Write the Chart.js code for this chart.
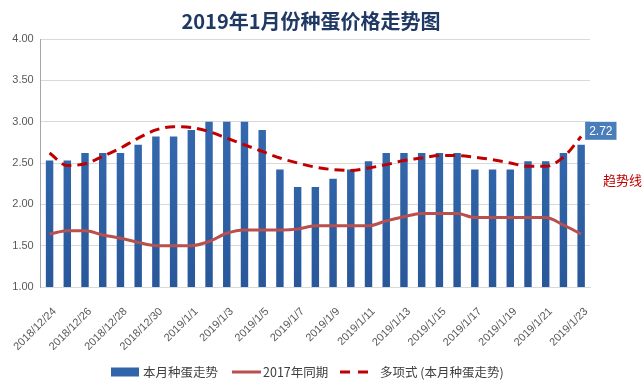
<!DOCTYPE html>
<html>
<head>
<meta charset="utf-8">
<script src="https://cdn.jsdelivr.net/npm/chart.js@4.4.1/dist/chart.umd.min.js"></script>
<style>
  html, body { margin: 0; padding: 0; background: #ffffff; }
  #wrap { width: 644px; height: 387px; position: relative; }
</style>
</head>
<body>
<div id="wrap"><canvas id="c" width="644" height="387"></canvas></div>
<script>
const titleText = '2019年1月份种蛋价格走势图';
const categories = [
  '2018/12/24','2018/12/25','2018/12/26','2018/12/27','2018/12/28','2018/12/29','2018/12/30','2018/12/31',
  '2019/1/1','2019/1/2','2019/1/3','2019/1/4','2019/1/5','2019/1/6','2019/1/7','2019/1/8','2019/1/9',
  '2019/1/10','2019/1/11','2019/1/12','2019/1/13','2019/1/14','2019/1/15','2019/1/16','2019/1/17',
  '2019/1/18','2019/1/19','2019/1/20','2019/1/21','2019/1/22','2019/1/23'
];
const seriesNames = ['本月种蛋走势', '2017年同期', '多项式 (本月种蛋走势)'];
const thisMonth = [2.53,2.53,2.62,2.62,2.62,2.72,2.82,2.82,2.90,3.00,3.00,3.00,2.90,2.42,2.21,2.21,
                   2.31,2.42,2.52,2.62,2.62,2.62,2.62,2.62,2.42,2.42,2.42,2.52,2.52,2.62,2.72];
const sameLastYear = [1.64,1.68,1.68,1.63,1.59,1.54,1.50,1.50,1.50,1.55,1.65,1.69,1.69,1.69,1.70,1.74,
                      1.74,1.74,1.74,1.80,1.85,1.89,1.89,1.89,1.84,1.84,1.84,1.84,1.84,1.75,1.64];
const trendValues = [2.62,2.47,2.49,2.58,2.68,2.80,2.90,2.94,2.93,2.88,2.80,2.72,2.64,2.56,2.50,2.45,
                     2.42,2.41,2.44,2.48,2.53,2.56,2.59,2.59,2.57,2.54,2.50,2.46,2.46,2.57,2.82];
const yTicks = [1.00, 1.50, 2.00, 2.50, 3.00, 3.50, 4.00];
const trendNote = '趋势线';

const barTop = '#3b71b9', barBottom = '#28589a', barSolid = '#3064ab';
const lineColor = '#b9504e', trendColor = '#c00000';
const cjk = "'Noto Sans CJK SC', 'Liberation Sans', sans-serif";
const latin = "'Liberation Sans', 'Noto Sans', sans-serif";

function barGradient(ctx) {
  const area = ctx.chart.chartArea;
  if (!area) return barSolid;
  const g = ctx.chart.ctx.createLinearGradient(0, area.top, 0, area.bottom);
  g.addColorStop(0, barTop);
  g.addColorStop(1, barBottom);
  return g;
}

const decorPlugin = {
  id: 'decor',
  afterDraw(chart) {
    const ctx = chart.ctx;
    const xs = chart.scales.x, ys = chart.scales.y;
    ctx.save();
    // title
    ctx.font = "bold 20px " + cjk;
    ctx.fillStyle = '#1f3864';
    ctx.textAlign = 'center';
    ctx.textBaseline = 'middle';
    ctx.fillText(titleText, 311, 21);

    // data label for last bar
    const last = thisMonth.length - 1;
    const bx = xs.getPixelForValue(last);
    const by = ys.getPixelForValue(thisMonth[last]);
    const label = thisMonth[last].toFixed(2);
    ctx.font = "12px " + latin;
    const tw = ctx.measureText(label).width;
    const bw = tw + 8, bh = 18;
    const left = bx + 4, top = by - 23;
    ctx.fillStyle = '#4a7ebb';
    ctx.fillRect(left, top, bw, bh);
    ctx.fillStyle = '#ffffff';
    ctx.textAlign = 'center';
    ctx.fillText(label, left + bw / 2, top + bh / 2 + 0.5);

    // trend note
    ctx.font = "13px " + cjk;
    ctx.fillStyle = trendColor;
    ctx.textAlign = 'left';
    ctx.fillText(trendNote, chart.chartArea.right + 13, ys.getPixelForValue(2.29));

    // legend
    const ly = 372;
    ctx.font = "12.5px " + cjk;
    ctx.fillStyle = barSolid;
    ctx.fillRect(111, ly - 4.5, 28, 9);
    ctx.fillStyle = '#404040';
    ctx.textAlign = 'left';
    ctx.fillText(seriesNames[0], 143, ly);

    ctx.strokeStyle = lineColor;
    ctx.lineWidth = 3;
    ctx.beginPath(); ctx.moveTo(232, ly); ctx.lineTo(261, ly); ctx.stroke();
    ctx.fillStyle = '#404040';
    ctx.fillText(seriesNames[1], 263, ly);

    ctx.strokeStyle = trendColor;
    ctx.setLineDash([10, 8]);
    ctx.beginPath(); ctx.moveTo(340, ly); ctx.lineTo(368, ly); ctx.stroke();
    ctx.setLineDash([]);
    ctx.fillStyle = '#404040';
    ctx.fillText(seriesNames[2], 380, ly);
    ctx.restore();
  }
};

new Chart(document.getElementById('c'), {
  data: {
    labels: categories,
    datasets: [
      {
        type: 'bar', label: seriesNames[0], data: thisMonth, order: 3,
        backgroundColor: barGradient, borderWidth: 0,
        barPercentage: 0.42, categoryPercentage: 1.0
      },
      {
        type: 'line', label: seriesNames[1], data: sameLastYear, order: 2,
        borderColor: lineColor, borderWidth: 3, pointRadius: 0,
        cubicInterpolationMode: 'monotone', fill: false
      },
      {
        type: 'line', label: seriesNames[2], data: trendValues, order: 1,
        borderColor: trendColor, borderWidth: 3, borderDash: [10, 6], pointRadius: 0,
        cubicInterpolationMode: 'monotone', fill: false
      }
    ]
  },
  options: {
    responsive: false,
    animation: false,
    events: [],
    layout: { padding: { top: 39, right: 54, bottom: 30, left: 0 } },
    plugins: { legend: { display: false }, title: { display: false }, tooltip: { enabled: false } },
    scales: {
      x: {
        offset: true,
        grid: { display: false },
        border: { display: true, color: '#d9d9d9' },
        ticks: {
          autoSkip: false, maxRotation: 45, minRotation: 45,
          color: '#595959', font: { size: 11, family: latin }, padding: 10, labelOffset: 5,
          callback: (v, i) => (i % 2 === 0 ? categories[i] : '')
        },
        afterFit: (s) => { s.height = 70; }
      },
      y: {
        min: yTicks[0], max: yTicks[yTicks.length - 1],
        afterBuildTicks: (s) => { s.ticks = yTicks.map(v => ({ value: v })); },
        grid: { color: '#d9d9d9', drawTicks: false },
        border: { display: true, color: '#a6a6a6' },
        ticks: { color: '#595959', font: { size: 11, family: latin }, padding: 7,
                 callback: (v) => Number(v).toFixed(2) },
        afterFit: (s) => { s.width = 40; }
      }
    }
  },
  plugins: [decorPlugin]
});
</script>
</body>
</html>
